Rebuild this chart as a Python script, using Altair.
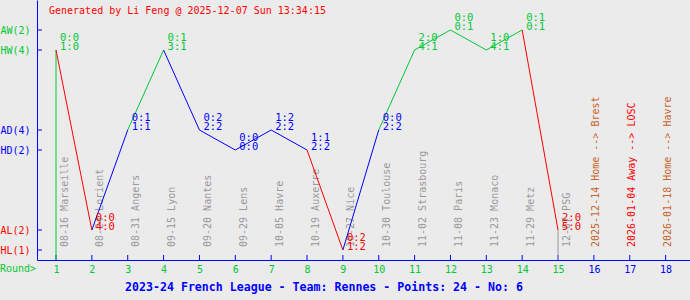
import altair as alt
import pandas as pd

# ---- data ----
rounds = list(range(1, 16))
dates = ["08-16", "08-24", "08-31", "09-15", "09-20", "09-29", "10-05", "10-19",
         "10-27", "10-30", "11-02", "11-08", "11-23", "11-29", "12-07"]
opponents = ["Marseille", "Lorient", "Angers", "Lyon", "Nantes", "Lens", "Havre", "Auxerre",
             "Nice", "Toulouse", "Strasbourg", "Paris", "Monaco", "Metz", "PSG"]
venues = ["H", "A", "A", "H", "A", "H", "A", "H", "H", "A", "H", "A", "H", "A", "A"]
outcomes = ["W", "L", "D", "W", "D", "D", "D", "D", "L", "D", "W", "W", "W", "W", "L"]
half_time = ["0:0", "0:0", "0:1", "0:1", "0:2", "0:0", "1:2", "1:1", "0:2", "0:0",
             "2:0", "0:0", "1:0", "0:1", "2:0"]
full_time = ["1:0", "4:0", "1:1", "3:1", "2:2", "0:0", "2:2", "2:2", "1:2", "2:2",
             "4:1", "0:1", "4:1", "0:1", "5:0"]

future_rounds = [16, 17, 18]
future_dates = ["2025-12-14", "2026-01-04", "2026-01-18"]
future_venues = ["Home", "Away", "Home"]
future_opponents = ["Brest", "LOSC", "Havre"]

generated = "Generated by Li Feng @ 2025-12-07 Sun 13:34:15"
season = "2023-24 French League"
team = "Rennes"
team_no = 6

# ---- category levels on the y scale ----
level_order = ["HL", "AL", "HD", "AD", "HW", "AW"]
level_pos = {"HL": 0.5, "AL": 1.5, "HD": 5.5, "AD": 6.5, "HW": 10.5, "AW": 11.5}

GREEN, BLUE, RED, GREY, HOMEC = "#00c832", "#0000ff", "#ff0000", "#9a9a9a", "#c8642d"
FONT = "DejaVu Sans Mono"

codes = [v + o for v, o in zip(venues, outcomes)]
levels = [level_pos[c] for c in codes]
counts = {k: codes.count(k) for k in level_order}
points = 3 * outcomes.count("W") + outcomes.count("D")
footer = f"{season} - Team: {team} - Points: {points} - No: {team_no}"

matches = pd.DataFrame({
    "round": rounds, "level": levels, "kind": outcomes,
    "ht": half_time, "ft": full_time,
    "label": [d + " " + o for d, o in zip(dates, opponents)],
    "lk": ["past"] * len(rounds),
})

seg_rows = []
for i, r in enumerate(rounds):
    if i == 0:
        x2, y2 = r, 0
    else:
        x2, y2 = rounds[i - 1], levels[i - 1]
    seg_rows.append(dict(round=r, level=levels[i], x2=x2, y2=y2, kind=outcomes[i]))
seg_rows.append(dict(round=rounds[-1], level=levels[-1], x2=rounds[-1], y2=0, kind="now"))
segs = pd.DataFrame(seg_rows)

future = pd.DataFrame({
    "round": future_rounds,
    "label": [f"{d} {v} --> {o}" for d, v, o in zip(future_dates, future_venues, future_opponents)],
    "lk": future_venues,
})

all_rounds = pd.DataFrame({"round": rounds + future_rounds})
ylev = pd.DataFrame({"level": [level_pos[k] for k in level_order]})

color_scale = alt.Scale(
    domain=["W", "D", "L", "now", "past", "Home", "Away"],
    range=[GREEN, BLUE, RED, GREY, GREY, HOMEC, RED],
)
xs = alt.Scale(domain=[0.47, 18.68], nice=False, zero=False)
ys = alt.Scale(domain=[0, 13], nice=False, zero=False)

ylabel_expr = " : ".join(
    f"datum.value == {level_pos[k]} ? '{k}({counts[k]})'" for k in level_order
) + " : ''"
ycolor_expr = f"datum.value > 9 ? '{GREEN}' : (datum.value > 4 ? '{BLUE}' : '{RED}')"
xcolor_expr = f"datum.value <= {rounds[-1]} ? '{GREEN}' : '{BLUE}'"

x_axis = alt.Axis(values=rounds + future_rounds, format="d", ticks=False, tickSize=0,
                  labelPadding=12, labelBaseline="alphabetic", labelFont=FONT,
                  labelFontSize=10, labelColor={"expr": xcolor_expr}, domainColor=BLUE,
                  grid=False, title=None, labelFlush=False, labelOverlap=False,
                  labelBound=False)
y_axis = alt.Axis(values=[level_pos[k] for k in level_order], ticks=False, tickSize=0,
                  labelPadding=7, labelExpr=ylabel_expr, labelFont=FONT, labelFontSize=10,
                  labelColor={"expr": ycolor_expr}, domainColor=BLUE, grid=False, title=None,
                  labelBaseline="middle", labelOverlap=False)

X = alt.X("round:Q", scale=xs, axis=x_axis)
Y = alt.Y("level:Q", scale=ys, axis=y_axis)

past_labels = alt.Chart(matches).mark_text(
    angle=270, align="left", baseline="middle", dy=8.5, font=FONT, fontSize=10
).encode(
    x=X, y=alt.value(247), text="label:N",
    color=alt.Color("lk:N", scale=color_scale, legend=None),
)
future_labels = alt.Chart(future).mark_text(
    angle=270, align="left", baseline="middle", dy=2, font=FONT, fontSize=10
).encode(
    x=X, y=alt.value(247), text="label:N",
    color=alt.Color("lk:N", scale=color_scale, legend=None),
)

xticks = alt.Chart(all_rounds).mark_rule(color=BLUE).encode(
    x=X, y=alt.value(255), y2=alt.value(260)
)
yticks = alt.Chart(ylev).mark_rule(color=BLUE).encode(
    y=Y, x=alt.value(0), x2=alt.value(5)
)

lines = alt.Chart(segs).mark_rule(strokeWidth=1).encode(
    x=X, x2="x2:Q", y=Y, y2="y2:Q",
    color=alt.Color("kind:N", scale=color_scale, legend=None),
)

ht_text = alt.Chart(matches).mark_text(
    align="left", baseline="alphabetic", dx=4, dy=-9.5, font=FONT, fontSize=10.5
).encode(
    x=X, y=Y, text="ht:N",
    color=alt.Color("kind:N", scale=color_scale, legend=None),
)
ft_text = alt.Chart(matches).mark_text(
    align="left", baseline="alphabetic", dx=4, dy=-0.5, font=FONT, fontSize=10.5
).encode(
    x=X, y=Y, text="ft:N",
    color=alt.Color("kind:N", scale=color_scale, legend=None),
)

gen_text = alt.Chart(pd.DataFrame({"t": [generated]})).mark_text(
    align="left", baseline="alphabetic", font=FONT, fontSize=10, color=RED
).encode(text="t:N", x=alt.value(12), y=alt.value(13.5))

foot_text = alt.Chart(pd.DataFrame({"t": [footer]})).mark_text(
    align="center", baseline="alphabetic", font=FONT, fontSize=11.6, fontWeight="bold", color=BLUE
).encode(text="t:N", x=alt.value(287), y=alt.value(291))

round_text = alt.Chart(pd.DataFrame({"t": ["Round>"]})).mark_text(
    align="left", baseline="alphabetic", font=FONT, fontSize=10, color=GREEN
).encode(text="t:N", x=alt.value(-37), y=alt.value(272))

chart = alt.layer(
    past_labels, future_labels, xticks, yticks, lines, ht_text, ft_text,
    gen_text, foot_text, round_text
).properties(
    width=653, height=260,
    autosize=alt.AutoSizeParams(type="none"),
    padding={"left": 37, "top": 0, "right": 0, "bottom": 40},
    background="#ebebeb",
).configure_view(stroke=None)

chart.save("out.html", embed_options={"renderer": "svg", "actions": False})
